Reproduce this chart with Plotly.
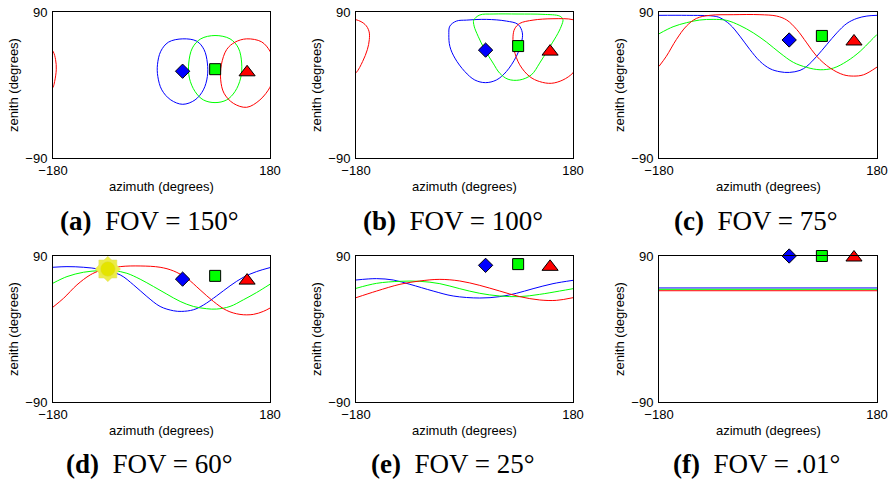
import plotly.graph_objects as go

# ---------------- data ----------------
AXIS_AZ_TICKS = [-180, 180]
AXIS_AZ_TEXT = ["\u2212180", "180"]
AXIS_ZEN_TICKS = [-90, 90]
AXIS_ZEN_TEXT = ["\u221290", "90"]

CAPTION_LETTERS = ["(a)", "(b)", "(c)", "(d)", "(e)", "(f)"]
CAPTION_FOV = ["150", "100", "75", "60", "25", ".01"]

# markers (camera / sample positions)
DIAMOND_AZ = 35
SQUARE_AZ = 89
TRIANGLE_AZ = 142
DIAMOND_ZEN = [17, 43, 55.5, 61.5, 78.5, 90]
SQUARE_ZEN = [19.5, 48, 60.5, 65.5, 80, 90]
TRIANGLE_ZEN = [17.5, 43, 55.5, 61.5, 78.5, 90]

# sun (panel d)
SUN_AZ = [-89]
SUN_ZEN = [74]

# panel (a) FOV 150
A_BLUE_AZ = [35.3, 58.5, 70.6, 76.1, 76.1, 69.5, 55.7, 35.3, 15.4, 0.5, -6.1, -6.7, -1.2, 11.5, 35.3]
A_BLUE_ZEN = [56.9, 54, 43.6, 27.1, 10.5, -6, -18.4, -23.8, -18.4, -6, 10.5, 25, 41.6, 52.8, 56.9]
A_GREEN_AZ = [88.8, 113.7, 127.5, 133, 131.3, 121.9, 108.1, 88.8, 69.5, 55.7, 46.3, 45.2, 51.3, 65.1, 88.8]
A_GREEN_ZEN = [61, 56.9, 45.7, 27.1, 8.5, -8.1, -18.4, -21.7, -18.4, -8.1, 8.5, 27.1, 45.7, 56.9, 61]
A_RED_AZ = [141.3, 166.1, 180, 184.3, 185.4, 182.7, 180, 163.3, 141.3, 119.2, 103.7, 98.2, 99.3, 108.1, 122, 141.3]
A_RED_ZEN = [56.9, 53.2, 41.6, 31.2, 18.8, 4.3, -2.7, -18.4, -27.5, -22.6, -10.1, 6.4, 25, 43.7, 52.8, 56.9]

# panel (b) FOV 100
B_BLUE_AZ = [36.4, 69.5, 88.8, 96, 94.3, 86, 69.5, 53, 34.7, 17, 0.5, -16, -24.3, -26, -24.3, -13.3, 3.3, 36.4]
B_BLUE_ZEN = [80.9, 78.8, 74.7, 64.3, 51.8, 35.3, 16.6, 6.2, 2.9, 6.2, 16.6, 33.2, 47.7, 62.2, 72.6, 78.8, 80, 80.9]
B_GREEN_AZ = [88.8, 130.2, 157.8, 163.3, 160.6, 152.3, 138.5, 124.7, 110.9, 91.6, 72.3, 58.5, 47.4, 33.6, 22.6, 16, 15.4, 25.3, 47.4, 88.8]
B_GREEN_ZEN = [87.5, 87.1, 85, 80.9, 72.6, 60.1, 43.6, 27, 12.5, 6.2, 7.1, 14.5, 27, 43.6, 60.1, 72.6, 80, 86.3, 87.5, 87.5]
B_RED_AZ = [146.8, 180, 194.9, 201.5, 202.1, 198.8, 191, 180, 163.3, 144, 124.7, 108.1, 91.6, 82.2, 80.5, 83.3, 91.6, 113.7, 146.8]
B_RED_ZEN = [81.7, 80.5, 74.7, 66.4, 56, 43.6, 29, 15, 6.2, 2.1, 4.2, 10.4, 24.9, 43.6, 60.1, 69.3, 75.9, 80, 81.7]

# panel (c) FOV 75
C_BLUE_AZ = [-180, -134.7, -90.6, -79.5, -63, -46.4, -29.9, -13.3, 3.3, 19.8, 35.3, 52.9, 64, 80.5, 97.1, 113.7, 130.2, 146.8, 163.3, 180]
C_BLUE_ZEN = [85.9, 85.9, 85, 83, 74.7, 60.2, 43.7, 29.2, 20.1, 16.3, 15.5, 18, 23, 35.4, 49.9, 64.3, 75.9, 82.1, 85, 85.9]
C_GREEN_AZ = [-180, -156.8, -134.7, -112.7, -90.6, -68.5, -46.4, -24.3, -2.3, 19.8, 41.9, 64, 86.1, 108.1, 130.2, 152.3, 168.9, 180]
C_GREEN_ZEN = [63.1, 71.8, 76.8, 80.1, 80.9, 79.7, 73.4, 64.3, 52.8, 39.5, 27.9, 21.7, 18.8, 20.9, 29.2, 41.6, 54, 62.3]
C_RED_AZ = [-180, -167.9, -151.3, -134.7, -118.2, -96.1, -57.5, -13.3, 14.3, 30.9, 47.4, 64, 80.5, 102.6, 124.7, 141.3, 157.8, 180]
C_RED_ZEN = [23, 35.4, 56.1, 72.6, 82.1, 85.9, 86.7, 86.7, 85, 80.1, 68.5, 51.9, 35.4, 20.9, 12.6, 11, 12.6, 22.1]

# panel (d) FOV 60
D_BLUE_AZ = [-180, -156.8, -129.2, -101.6, -68.5, -46.4, -24.3, -2.3, 19.8, 33.6, 52.9, 69.5, 91.6, 113.7, 135.8, 157.8, 180]
D_BLUE_ZEN = [76.1, 76.9, 76.1, 73.6, 66.7, 54.4, 40.1, 27.8, 22.5, 21.7, 23.7, 29.5, 40.9, 53.2, 63.8, 70.8, 75.7]
D_GREEN_AZ = [-180, -156.8, -129.2, -101.6, -79.5, -57.5, -35.4, -13.3, 8.8, 30.9, 52.9, 75, 91.6, 113.7, 135.8, 157.8, 180]
D_GREEN_ZEN = [56.5, 64.6, 70, 72, 72, 68.7, 61.4, 52.4, 43, 34, 27.8, 25, 24.6, 27.8, 36, 45, 55.2]
D_RED_AZ = [-180, -162.3, -140.3, -118.2, -101.6, -68.5, -35.4, -2.3, 19.8, 41.9, 64, 86.1, 108.1, 130.2, 152.3, 168.9, 180]
D_RED_ZEN = [27, 38, 54.4, 66.7, 72, 76.9, 77.7, 76.1, 71.6, 62.6, 48.3, 34, 22.9, 18, 18, 21.7, 25.8]

# panel (e) FOV 25
E_BLUE_AZ = [-180, -145.8, -118.2, -90.6, -52, -18.8, 25.3, 58.5, 86.1, 113.7, 146.8, 180]
E_BLUE_ZEN = [60.4, 62.1, 60.4, 55.1, 46.8, 40.7, 38.2, 39.9, 44, 49.7, 55.9, 60]
E_GREEN_AZ = [-180, -145.8, -107.1, -74, -40.9, -7.8, 25.3, 58.5, 91.6, 124.7, 157.8, 180]
E_GREEN_ZEN = [50.1, 56.3, 58.8, 58.8, 55.9, 49.7, 44, 40.7, 39.9, 42.7, 46.8, 49.7]
E_RED_AZ = [-180, -145.8, -107.1, -74, -40.9, -7.8, 25.3, 58.5, 91.6, 124.7, 152.3, 180]
E_RED_ZEN = [38.6, 46.8, 55.1, 59.2, 61.2, 59.2, 53.8, 46.8, 39.9, 35.8, 35.3, 38.6]

# panel (f) FOV .01
F_AZ = [-180, 180]
F_BLUE_ZEN = [50.6, 50.6]
F_GREEN_ZEN = [48.9, 48.9]
F_RED_ZEN = [47.2, 47.2]

PANEL_CURVES = [
    [(A_BLUE_AZ, A_BLUE_ZEN), (A_GREEN_AZ, A_GREEN_ZEN), (A_RED_AZ, A_RED_ZEN)],
    [(B_BLUE_AZ, B_BLUE_ZEN), (B_GREEN_AZ, B_GREEN_ZEN), (B_RED_AZ, B_RED_ZEN)],
    [(C_BLUE_AZ, C_BLUE_ZEN), (C_GREEN_AZ, C_GREEN_ZEN), (C_RED_AZ, C_RED_ZEN)],
    [(D_BLUE_AZ, D_BLUE_ZEN), (D_GREEN_AZ, D_GREEN_ZEN), (D_RED_AZ, D_RED_ZEN)],
    [(E_BLUE_AZ, E_BLUE_ZEN), (E_GREEN_AZ, E_GREEN_ZEN), (E_RED_AZ, E_RED_ZEN)],
    [(F_AZ, F_BLUE_ZEN), (F_AZ, F_GREEN_ZEN), (F_AZ, F_RED_ZEN)],
]

# ---------------- styling / layout ----------------
W, H = 892, 483
BLUE, GREEN, RED = "#0000ff", "#00ff00", "#ff0000"
COLORS = [BLUE, GREEN, RED]
SANS = "Liberation Sans, Arial, sans-serif"
SERIF = "Liberation Serif, Times New Roman, serif"

# plot boxes in window pixels
LEFTS = [53, 356, 659]
RIGHTS = [270, 573, 877]
TOPS = [12, 256]
BOTTOMS = [158, 402]
CAPTION_Y = [221, 464]


def fx(px):
    return px / W


def fy(py):
    return 1 - py / H


fig = go.Figure()
annotations = []
layout = dict(
    width=W, height=H,
    margin=dict(l=0, r=0, t=0, b=0, autoexpand=False),
    paper_bgcolor="white", plot_bgcolor="white",
    showlegend=False,
    font=dict(family=SANS, size=13, color="black"),
)

for i in range(6):
    row, col = divmod(i, 3)
    n = i + 1
    xa = "x" if n == 1 else f"x{n}"
    ya = "y" if n == 1 else f"y{n}"
    l, r = LEFTS[col], RIGHTS[col]
    t, b = TOPS[row], BOTTOMS[row]
    layout["xaxis" if n == 1 else f"xaxis{n}"] = dict(
        domain=[fx(l), fx(r)], anchor=ya, range=[-180, 180], automargin=False,
        tickmode="array", tickvals=AXIS_AZ_TICKS, ticktext=AXIS_AZ_TEXT,
        showgrid=False, zeroline=False, showline=True, mirror=True,
        linecolor="black", linewidth=1, ticks="", ticklabelstandoff=0,
        tickfont=dict(family=SANS, size=13, color="black"), fixedrange=True,
    )
    layout["yaxis" if n == 1 else f"yaxis{n}"] = dict(
        domain=[fy(b), fy(t)], anchor=xa, range=[-90, 90], automargin=False,
        tickmode="array", tickvals=AXIS_ZEN_TICKS, ticktext=AXIS_ZEN_TEXT,
        showgrid=False, zeroline=False, showline=True, mirror=True,
        linecolor="black", linewidth=1, ticks="", ticklabelstandoff=2,
        tickfont=dict(family=SANS, size=13, color="black"), fixedrange=True,
    )

    # curves
    for (az, zen), c in zip(PANEL_CURVES[i], COLORS):
        fig.add_trace(go.Scatter(x=az, y=zen, mode="lines", xaxis=xa, yaxis=ya,
                                 line=dict(color=c, width=1, shape="spline", smoothing=1.0),
                                 hoverinfo="skip"))
        if max(az) > 180:  # wrap-around part of the curve (azimuth is periodic)
            fig.add_trace(go.Scatter(x=[v - 360 for v in az], y=zen, mode="lines",
                                     xaxis=xa, yaxis=ya,
                                     line=dict(color=c, width=1, shape="spline", smoothing=1.0),
                                     hoverinfo="skip"))

    # sun (panel d)
    if i == 3:
        for sym, sz, colr in [("square", 18, "#eeee44"), ("diamond", 19.5, "#eeee44"),
                              ("circle", 15, "#e4e400")]:
            fig.add_trace(go.Scatter(x=SUN_AZ, y=SUN_ZEN, mode="markers", xaxis=xa, yaxis=ya,
                                     marker=dict(symbol=sym, size=sz, color=colr,
                                                 line=dict(color="#dddd66", width=0.5)),
                                     cliponaxis=False, hoverinfo="skip"))

    # markers
    fig.add_trace(go.Scatter(x=[DIAMOND_AZ], y=[DIAMOND_ZEN[i]], mode="markers", xaxis=xa, yaxis=ya,
                             marker=dict(symbol="diamond", size=11, color=BLUE,
                                         line=dict(color="black", width=1)),
                             cliponaxis=False, hoverinfo="skip"))
    fig.add_trace(go.Scatter(x=[SQUARE_AZ], y=[SQUARE_ZEN[i]], mode="markers", xaxis=xa, yaxis=ya,
                             marker=dict(symbol="square", size=11, color=GREEN,
                                         line=dict(color="black", width=1)),
                             cliponaxis=False, hoverinfo="skip"))
    fig.add_trace(go.Scatter(x=[TRIANGLE_AZ], y=[TRIANGLE_ZEN[i]], mode="markers", xaxis=xa, yaxis=ya,
                             marker=dict(symbol="triangle-up", angle=0, standoff=1.5, size=14,
                                         color=RED, line=dict(color="black", width=1)),
                             cliponaxis=False, hoverinfo="skip"))

    # axis titles
    cx = (l + r) / 2
    annotations.append(dict(text="azimuth (degrees)", x=fx(cx), y=fy(b + 28.5),
                            xref="paper", yref="paper", showarrow=False,
                            xanchor="center", yanchor="middle",
                            font=dict(family=SANS, size=13, color="black")))
    annotations.append(dict(text="zenith (degrees)", x=fx(l - 40), y=fy((t + b) / 2),
                            xref="paper", yref="paper", showarrow=False, textangle=-90,
                            xanchor="center", yanchor="middle",
                            font=dict(family=SANS, size=13, color="black")))
    # caption
    annotations.append(dict(text=f"<b>{CAPTION_LETTERS[i]}</b>  FOV = {CAPTION_FOV[i]}\u00b0",
                            x=fx(cx - 12), y=fy(CAPTION_Y[row]),
                            xref="paper", yref="paper", showarrow=False,
                            xanchor="center", yanchor="middle",
                            font=dict(family=SERIF, size=27, color="black")))

layout["annotations"] = annotations
fig.update_layout(**layout)
fig.write_html(
    "out.html",
    config={"displayModeBar": False, "staticPlot": True},
    post_script="document.body.style.margin='0';document.body.style.overflow='hidden';",
)
